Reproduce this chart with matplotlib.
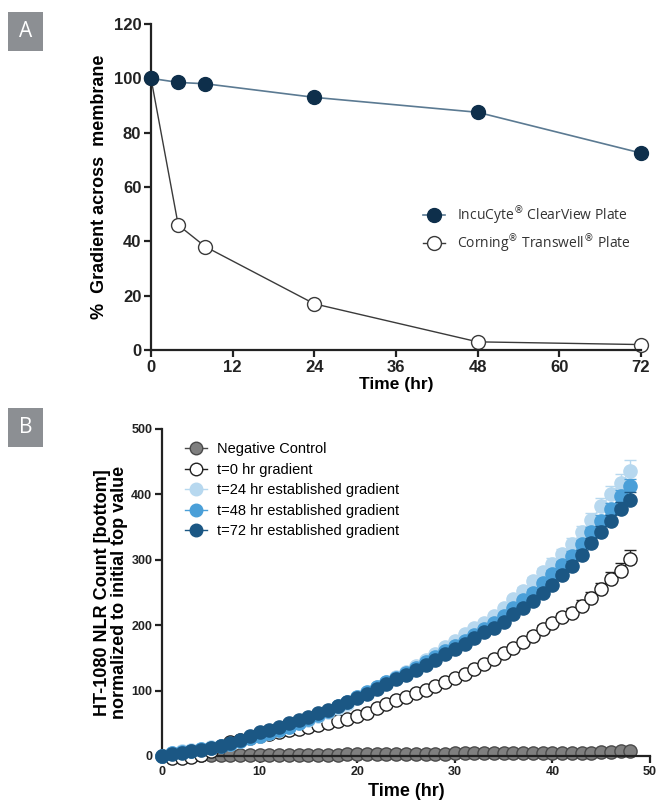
import matplotlib
matplotlib.use('Agg')
from matplotlib import pyplot as plt
from matplotlib.patches import Rectangle
import numpy as np

plt.rcParams['font.family'] = ['Liberation Sans', 'DejaVu Sans']
plt.rcParams['mathtext.fontset'] = 'dejavusans'

# ---- panel A data ----
time_a = [0, 4, 8, 24, 48, 72]
incucyte = [100, 98.5, 98, 93, 87.5, 72.5]
corning = [100, 46, 38, 17, 3, 2]

# ---- panel B data (hourly, 0..48 hr) ----
time_b = list(range(49))
neg_ctrl = [0, 0, 0, 0, 1, 1, 1, 1, 2, 2, 2, 2, 2, 2, 2, 2, 2, 2, 2, 3,
            3, 3, 3, 3, 3, 3, 3, 3, 3, 3, 4, 4, 4, 4, 4, 4, 4, 4, 4, 4,
            5, 5, 5, 5, 5, 6, 6, 7, 8]
t0_grad = [0, -3, -3, -1, 2, 8, 16, 22, 24, 27, 30, 33, 36, 39, 42, 45, 47, 50, 53, 57,
           61, 66, 74, 80, 85, 90, 96, 101, 107, 113, 119, 126, 133, 140, 148, 157, 165, 174, 184, 194,
           203, 212, 219, 230, 242, 255, 270, 283, 301]
t24_grad = [0, 5, 7, 9, 11, 13, 16, 19, 23, 27, 31, 35, 40, 45, 50, 55, 61, 67, 74, 80,
            90, 97, 105, 113, 121, 129, 138, 147, 156, 166, 176, 186, 195, 204, 214, 227, 240, 253, 268, 281,
            294, 309, 324, 342, 361, 382, 400, 417, 436]
t48_grad = [0, 4, 6, 8, 10, 12, 15, 19, 23, 27, 31, 35, 40, 45, 50, 56, 62, 69, 76, 83,
            90, 98, 105, 113, 120, 127, 135, 143, 151, 160, 168, 176, 185, 194, 203, 214, 226, 238, 250, 264,
            278, 292, 306, 324, 342, 360, 378, 397, 413]
t72_grad = [0, 3, 5, 7, 9, 12, 16, 20, 25, 30, 36, 40, 45, 50, 55, 60, 65, 71, 77, 82,
            89, 95, 103, 110, 117, 124, 131, 139, 147, 156, 164, 172, 181, 189, 196, 205, 217, 226, 237, 250,
            262, 277, 291, 308, 326, 342, 360, 378, 392]

# upper SEM for the last hours (36..48)
err_hours = list(range(36, 49))
t0_err = [4, 5, 5, 6, 6, 7, 8, 8, 9, 10, 11, 12, 14]
t24_err = [5, 6, 6, 7, 8, 8, 9, 10, 11, 12, 13, 14, 16]
t48_err = [4, 4, 5, 5, 6, 6, 7, 7, 8, 9, 9, 10, 11]
t72_err = [4, 4, 5, 5, 6, 6, 7, 7, 8, 9, 9, 10, 11]

fig = plt.figure(figsize=(6.6, 8), dpi=100)

# panel letters
for lab, y0 in [('A', 1 - 51 / 800), ('B', 1 - 447 / 800)]:
    fig.patches.append(Rectangle((8 / 660, y0), 35 / 660, 39 / 800, transform=fig.transFigure,
                                 facecolor='#8c8f93', edgecolor='none'))
    fig.text(25.5 / 660, y0 + 19.5 / 800, lab, color='white', fontsize=15,
             ha='center', va='center', family='Open Sans')


def style_axes(ax, fs):
    ax.spines['top'].set_visible(False)
    ax.spines['right'].set_visible(False)
    for s in ['left', 'bottom']:
        ax.spines[s].set_linewidth(1.6)
        ax.spines[s].set_color('#222222')
    ax.tick_params(direction='out', length=5, width=1.6, colors='#222222', labelsize=fs, pad=2)
    for t in ax.get_xticklabels() + ax.get_yticklabels():
        t.set_fontweight('bold')


# ---- A ----
ax1 = fig.add_axes([151 / 660, 1 - 350 / 800, 490 / 660, 326 / 800])
ax1.plot(time_a, incucyte, '-o', color='#5b7a92', lw=1.2, mfc='#0e2f4b', mec='#0e2f4b',
         ms=10, clip_on=False, zorder=3,
         label=r'IncuCyte$^{\circledR}$ ClearView Plate')
ax1.plot(time_a, corning, '-o', color='#3a3a3a', lw=1.0, mfc='white', mec='#3a3a3a',
         mew=1.0, ms=10, clip_on=False, zorder=2,
         label=r'Corning$^{\circledR}$ Transwell$^{\circledR}$ Plate')
ax1.set_xlim(0, 72)
ax1.set_ylim(0, 120)
ax1.set_xticks([0, 12, 24, 36, 48, 60, 72])
ax1.set_yticks([0, 20, 40, 60, 80, 100, 120])
style_axes(ax1, 12)
ax1.set_xlabel('Time (hr)', fontsize=12.5, fontweight='bold', labelpad=2)
ax1.set_ylabel('%  Gradient across  membrane', fontsize=13, fontweight='bold', labelpad=4)
leg1 = ax1.legend(loc='center left', bbox_to_anchor=(0.53, 0.37), frameon=False,
                  prop={'family': 'Open Sans', 'size': 10}, handlelength=1.6,
                  handletextpad=0.8, labelspacing=0.4)
for t in leg1.get_texts():
    t.set_color('#333333')

# ---- B ----
ax2 = fig.add_axes([162 / 660, 1 - 756 / 800, 488 / 660, 327 / 800])
series = [
    (neg_ctrl, 'Negative Control', '#7f7f7f', '#4a4a4a', None),
    (t0_grad, 't=0 hr gradient', 'white', '#222222', t0_err),
    (t24_grad, 't=24 hr established gradient', '#b7d8ef', '#b7d8ef', t24_err),
    (t48_grad, 't=48 hr established gradient', '#4a9fd8', '#4a9fd8', t48_err),
    (t72_grad, 't=72 hr established gradient', '#1b5784', '#1b5784', t72_err),
]
for i, (vals, lab, fc, ec, err) in enumerate(series):
    if err is not None:
        sel = [vals[h] for h in err_hours]
        ax2.errorbar(err_hours, sel, yerr=[np.zeros(len(err)), err], fmt='none',
                     ecolor=ec, elinewidth=1.0, capsize=4.5, capthick=1.0,
                     clip_on=False, zorder=2 + i)
    ax2.plot(time_b, vals, '-o', color=ec, lw=1.0, mfc=fc, mec=ec, mew=1.0, ms=9.5,
             clip_on=False, zorder=2 + i, label=lab)
ax2.set_xlim(0, 50)
ax2.set_ylim(0, 500)
ax2.set_xticks([0, 10, 20, 30, 40, 50])
ax2.set_yticks([0, 100, 200, 300, 400, 500])
style_axes(ax2, 9)
ax2.set_xlabel('Time (hr)', fontsize=13, fontweight='bold', labelpad=4)
ax2.set_ylabel('HT-1080 NLR Count [bottom]\nnormalized to initial top value',
               fontsize=13, fontweight='bold', labelpad=2, linespacing=1.0)
ax2.legend(loc='upper left', bbox_to_anchor=(0.02, 1.0), frameon=False,
           prop={'size': 10.5}, handlelength=1.5, handletextpad=0.7, labelspacing=0.45,
           markerscale=0.95)

plt.savefig('out.png', dpi=100)
